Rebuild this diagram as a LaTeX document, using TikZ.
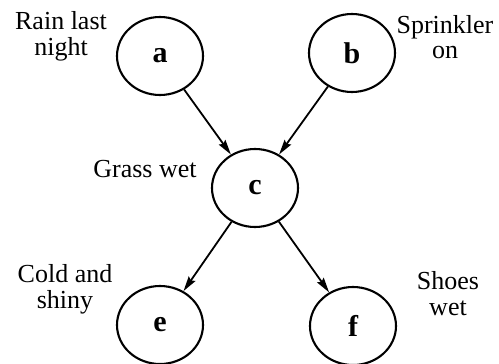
\documentclass[tikz,border=0pt]{standalone}
\usepackage{fontspec}
\setmainfont{Liberation Serif}
\usetikzlibrary{arrows.meta,shapes.geometric}
\begin{document}
\begin{tikzpicture}[x=1pt,y=-1pt,
  var/.style={ellipse,draw,line width=2.1pt,minimum width=86pt,minimum height=78pt,inner sep=0pt,
    font=\fontsize{30}{31}\selectfont\bfseries},
  lbl/.style={align=center,anchor=base,font=\fontsize{26}{26}\selectfont},
  link/.style={line width=1.8pt,-{Stealth[length=15pt,width=8pt,inset=2pt]}}]
  \useasboundingbox (0,0) rectangle (499,364);
  % variables
  \node[var] (a) at (160,56) {a};
  \node[var] (b) at (352,53) {b};
  \node[var] (c) at (255,188) {c};
  \node[var] (e) at (160,325) {e};
  \node[var] (f) at (353,326) {f};
  % descriptions (base anchor sits on the last line)
  \node[lbl] (la) at (61,56) {Rain last\\night};
  \node[lbl] (lb) at (445,59) {Sprinkler\\on};
  \node[lbl] (lc) at (145,177) {Grass wet};
  \node[lbl] (le) at (65,308) {Cold and\\shiny};
  \node[lbl] (lf) at (448,315) {Shoes\\wet};
  % dependencies
  \draw[link] (a) -- (c);
  \draw[link] (b) -- (c);
  \draw[link] (c) -- (e);
  \draw[link] (c) -- (f);
\end{tikzpicture}
\end{document}
